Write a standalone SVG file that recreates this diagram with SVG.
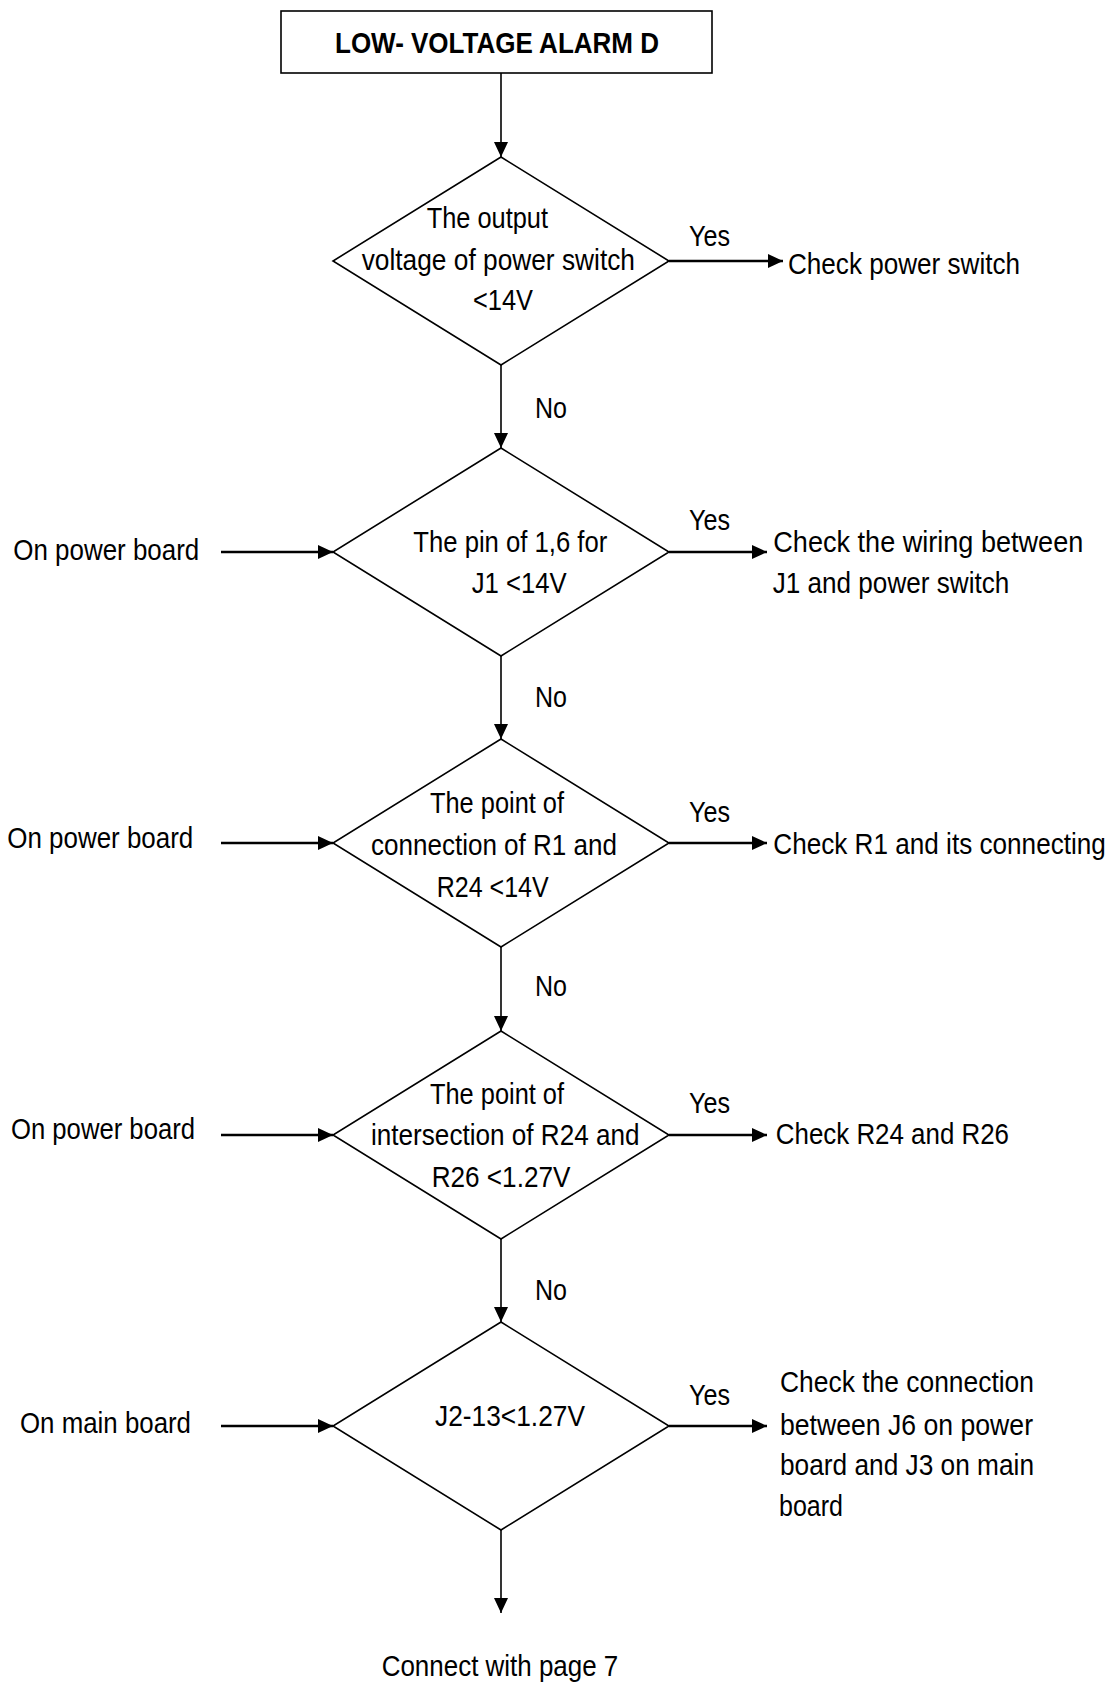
<svg xmlns="http://www.w3.org/2000/svg" width="1118" height="1684" viewBox="0 0 1118 1684">
<style>
text{font-family:"Liberation Sans Narrow","Liberation Sans",Arial,sans-serif;font-size:30px;fill:#000}
.b{font-weight:bold}
.shape{fill:#fff;stroke:#000;stroke-width:1.6}
.v{stroke:#000;stroke-width:1.6;fill:none}
.h{stroke:#000;stroke-width:2.4;fill:none}
</style>
<defs>
<marker id="ah" markerUnits="userSpaceOnUse" markerWidth="16" markerHeight="16" viewBox="0 0 16 16" refX="15" refY="8" orient="auto">
<path d="M0,1 L15,8 L0,15 Z" fill="#000"/>
</marker>
</defs>
<rect width="1118" height="1684" fill="#fff"/>

<g id="connectors">
<line class="v" x1="501" y1="73" x2="501" y2="157" marker-end="url(#ah)"/>
<line class="v" x1="501" y1="365" x2="501" y2="448" marker-end="url(#ah)"/>
<line class="v" x1="501" y1="656" x2="501" y2="739" marker-end="url(#ah)"/>
<line class="v" x1="501" y1="947" x2="501" y2="1031" marker-end="url(#ah)"/>
<line class="v" x1="501" y1="1239" x2="501" y2="1322" marker-end="url(#ah)"/>
<line class="v" x1="501" y1="1530" x2="501" y2="1613" marker-end="url(#ah)"/>
<line class="h" x1="669" y1="261" x2="783" y2="261" marker-end="url(#ah)"/>
<line class="h" x1="669" y1="552" x2="767" y2="552" marker-end="url(#ah)"/>
<line class="h" x1="669" y1="843" x2="767" y2="843" marker-end="url(#ah)"/>
<line class="h" x1="669" y1="1135" x2="767" y2="1135" marker-end="url(#ah)"/>
<line class="h" x1="669" y1="1426" x2="767" y2="1426" marker-end="url(#ah)"/>
<line class="h" x1="221" y1="552" x2="333" y2="552" marker-end="url(#ah)"/>
<line class="h" x1="221" y1="843" x2="333" y2="843" marker-end="url(#ah)"/>
<line class="h" x1="221" y1="1135" x2="333" y2="1135" marker-end="url(#ah)"/>
<line class="h" x1="221" y1="1426" x2="333" y2="1426" marker-end="url(#ah)"/>
<text x="689" y="246" textLength="41" lengthAdjust="spacingAndGlyphs">Yes</text>
<text x="689" y="530" textLength="41" lengthAdjust="spacingAndGlyphs">Yes</text>
<text x="689" y="821.7" textLength="41" lengthAdjust="spacingAndGlyphs">Yes</text>
<text x="689" y="1113.3" textLength="41" lengthAdjust="spacingAndGlyphs">Yes</text>
<text x="689" y="1405" textLength="41" lengthAdjust="spacingAndGlyphs">Yes</text>
<text x="535" y="418" textLength="32" lengthAdjust="spacingAndGlyphs">No</text>
<text x="535" y="707" textLength="32" lengthAdjust="spacingAndGlyphs">No</text>
<text x="535" y="996" textLength="32" lengthAdjust="spacingAndGlyphs">No</text>
<text x="535" y="1300" textLength="32" lengthAdjust="spacingAndGlyphs">No</text>
</g>

<g id="start">
<rect class="shape" x="281" y="11" width="431" height="62"/>
<text class="b" x="335" y="53" textLength="324" lengthAdjust="spacingAndGlyphs">LOW- VOLTAGE ALARM D</text>
</g>

<g id="d1">
<polygon class="shape" points="501,157 669,261 501,365 333,261"/>
<text x="426.7" y="228" textLength="121.3" lengthAdjust="spacingAndGlyphs">The output</text>
<text x="361.7" y="270" textLength="273.3" lengthAdjust="spacingAndGlyphs">voltage of power switch</text>
<text x="473" y="310" textLength="60" lengthAdjust="spacingAndGlyphs">&lt;14V</text>
</g>

<g id="d2">
<polygon class="shape" points="501,448 669,552 501,656 333,552"/>
<text x="413.3" y="551.7" textLength="194" lengthAdjust="spacingAndGlyphs">The pin of 1,6 for</text>
<text x="471.7" y="593" textLength="95" lengthAdjust="spacingAndGlyphs">J1 &lt;14V</text>
</g>

<g id="d3">
<polygon class="shape" points="501,739 669,843 501,947 333,843"/>
<text x="430" y="813.3" textLength="134" lengthAdjust="spacingAndGlyphs">The point of</text>
<text x="371" y="855" textLength="246" lengthAdjust="spacingAndGlyphs">connection of R1 and</text>
<text x="436.7" y="896.7" textLength="112" lengthAdjust="spacingAndGlyphs">R24 &lt;14V</text>
</g>

<g id="d4">
<polygon class="shape" points="501,1031 669,1135 501,1239 333,1135"/>
<text x="430" y="1104.3" textLength="134" lengthAdjust="spacingAndGlyphs">The point of</text>
<text x="371" y="1145" textLength="268.6" lengthAdjust="spacingAndGlyphs">intersection of R24 and</text>
<text x="431.7" y="1186.7" textLength="138.7" lengthAdjust="spacingAndGlyphs">R26 &lt;1.27V</text>
</g>

<g id="d5">
<polygon class="shape" points="501,1322 669,1426 501,1530 333,1426"/>
<text x="435" y="1426" textLength="150" lengthAdjust="spacingAndGlyphs">J2-13&lt;1.27V</text>
</g>

<g id="in2"><text x="13.3" y="560" textLength="186" lengthAdjust="spacingAndGlyphs">On power board</text></g>
<g id="in3"><text x="7.3" y="848.3" textLength="186" lengthAdjust="spacingAndGlyphs">On power board</text></g>
<g id="in4"><text x="11" y="1139.3" textLength="184" lengthAdjust="spacingAndGlyphs">On power board</text></g>
<g id="in5"><text x="20" y="1433.3" textLength="171" lengthAdjust="spacingAndGlyphs">On main board</text></g>

<g id="out1"><text x="788" y="274" textLength="232" lengthAdjust="spacingAndGlyphs">Check power switch</text></g>
<g id="out2">
<text x="773.3" y="551.7" textLength="310" lengthAdjust="spacingAndGlyphs">Check the wiring between</text>
<text x="772.7" y="593.3" textLength="236.6" lengthAdjust="spacingAndGlyphs">J1 and power switch</text>
</g>
<g id="out3"><text transform="translate(773.3,854.3) scale(0.871,1)" x="0" y="0" textLength="381.8" lengthAdjust="spacingAndGlyphs">Check R1 and its connecting</text></g>
<g id="out4"><text x="775.8" y="1144" textLength="233.2" lengthAdjust="spacingAndGlyphs">Check R24 and R26</text></g>
<g id="out5">
<text x="780" y="1391.7" textLength="254" lengthAdjust="spacingAndGlyphs">Check the connection</text>
<text x="780" y="1435" textLength="253" lengthAdjust="spacingAndGlyphs">between J6 on power</text>
<text x="780" y="1475" textLength="254" lengthAdjust="spacingAndGlyphs">board and J3 on main</text>
<text x="779" y="1516" textLength="64" lengthAdjust="spacingAndGlyphs">board</text>
</g>
<g id="end"><text x="381.7" y="1676" textLength="236.6" lengthAdjust="spacingAndGlyphs">Connect with page 7</text></g>
</svg>
